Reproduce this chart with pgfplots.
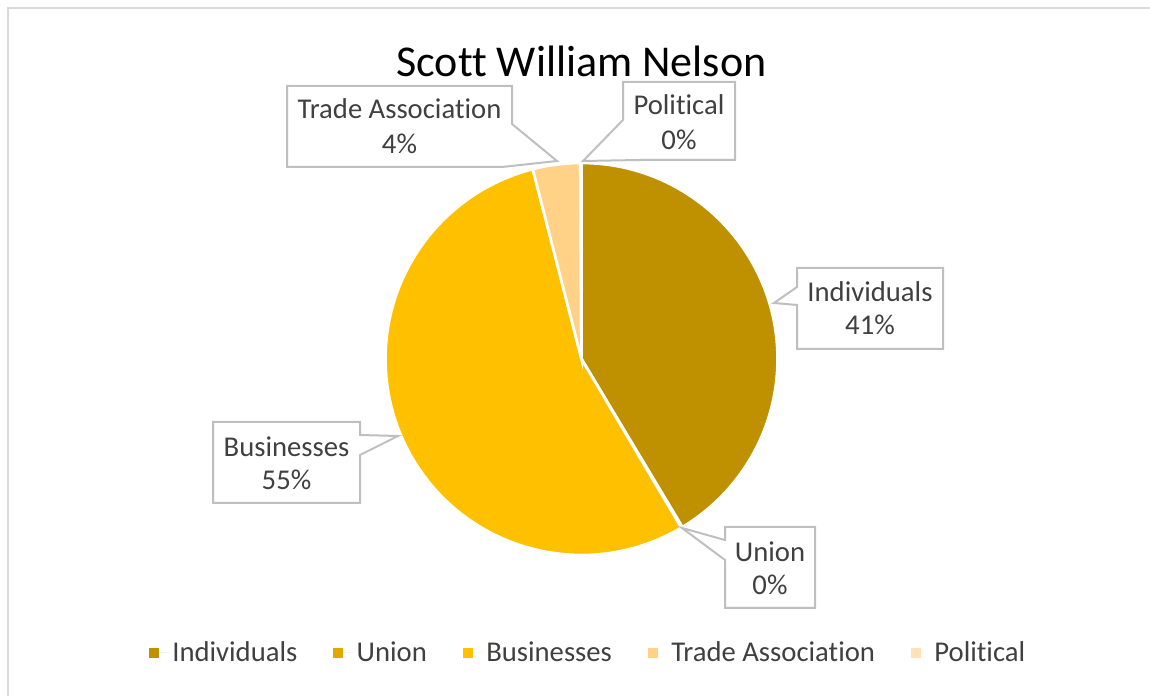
\documentclass[border=0pt]{standalone}
\usepackage{pgfplots}
\pgfplotsset{compat=1.18}
\usepackage{pgfplotstable}
\usepackage{fontspec}
\setmainfont{Carlito}[Ligatures=NoCommon]

\definecolor{cInd}{RGB}{191,144,0}
\definecolor{cUni}{RGB}{224,168,0}
\definecolor{cBus}{RGB}{255,192,0}
\definecolor{cTra}{RGB}{255,210,136}
\definecolor{cPol}{RGB}{255,226,186}
\definecolor{labelgray}{RGB}{64,64,64}
\definecolor{boxgray}{RGB}{191,191,191}
\definecolor{framegray}{RGB}{217,217,217}

\pgfplotstableread{
label value
Individuals 41.4
Union 0.1
Businesses 54.5
Trade 3.9
Political 0.1
}\piedata

\newcommand\getval[2]{\pgfplotstablegetelem{#1}{value}\of\piedata\global\let#2\pgfplotsretval}
\getval{0}\vA
\getval{1}\vB
\getval{2}\vC
\getval{3}\vD
\getval{4}\vE
\pgfmathsetmacro\angA{90}
\pgfmathsetmacro\angB{\angA-3.6*\vA}
\pgfmathsetmacro\angC{\angB-3.6*\vB}
\pgfmathsetmacro\angD{\angC-3.6*\vC}
\pgfmathsetmacro\angE{\angD-3.6*\vD}
\pgfmathsetmacro\angF{\angE-3.6*\vE}

\begin{document}
\begin{tikzpicture}
\begin{axis}[
  width=862.5pt, height=522pt, scale only axis,
  xmin=0, xmax=1150, ymin=0, ymax=696,
  hide axis, clip=false,
  legend columns=5,
  legend style={at={(0.5117,0.0618)}, anchor=center, draw=none, fill=none,
    font=\fontsize{21.5}{25}\selectfont, text=labelgray,
    /tikz/every even column/.append style={column sep=25pt}},
  legend cell align=left,
  legend image code/.code={\path[#1] (0pt,-3.75pt) rectangle (7.5pt,3.75pt);\path (0pt,0pt) -- (15.5pt,0pt);},
]
\coordinate (bbSW) at (axis cs:0,0);
\coordinate (bbNE) at (axis cs:1150,696);
% frame
\draw[framegray, line width=1.9pt] (axis cs:8,0) -- (axis cs:8,688) -- (axis cs:1150,688);
% pie slices
\fill[cInd, draw=white, line width=2pt] (axis cs:581.5,337) -- ++(\angA:147pt) arc[start angle=\angA, end angle=\angB, radius=147pt] -- cycle;
\fill[cUni, draw=white, line width=2pt] (axis cs:581.5,337) -- ++(\angB:147pt) arc[start angle=\angB, end angle=\angC, radius=147pt] -- cycle;
\fill[cBus, draw=white, line width=2pt] (axis cs:581.5,337) -- ++(\angC:147pt) arc[start angle=\angC, end angle=\angD, radius=147pt] -- cycle;
\fill[cTra, draw=white, line width=2pt] (axis cs:581.5,337) -- ++(\angD:147pt) arc[start angle=\angD, end angle=\angE, radius=147pt] -- cycle;
\fill[cPol, draw=white, line width=2pt] (axis cs:581.5,337) -- ++(\angE:147pt) arc[start angle=\angE, end angle=\angF, radius=147pt] -- cycle;
% title
\node[anchor=base, font=\fontsize{33}{40}\selectfont, text=black] at (axis cs:581.5,619) {Scott William Nelson};
% callouts
\draw[boxgray, fill=white, line width=1.5pt, line join=miter]
  (axis cs:287,610) -- (axis cs:512,610) -- (axis cs:512,572) -- (axis cs:557,535) -- (axis cs:502,529) -- (axis cs:287,529) -- cycle;
\draw[boxgray, fill=white, line width=1.5pt]
  (axis cs:623,614) -- (axis cs:735,614) -- (axis cs:735,536) -- (axis cs:640,536) -- (axis cs:583,535) -- (axis cs:623,576) -- cycle;
\draw[boxgray, fill=white, line width=1.5pt]
  (axis cs:797,428) -- (axis cs:943,428) -- (axis cs:943,347) -- (axis cs:797,347) -- (axis cs:797,391) -- (axis cs:774,393) -- (axis cs:797,409) -- cycle;
\draw[boxgray, fill=white, line width=1.5pt]
  (axis cs:213,274) -- (axis cs:360,274) -- (axis cs:360,261) -- (axis cs:398,260) -- (axis cs:360,241) -- (axis cs:360,193) -- (axis cs:213,193) -- cycle;
\draw[boxgray, fill=white, line width=1.5pt]
  (axis cs:725,169) -- (axis cs:815,169) -- (axis cs:815,88) -- (axis cs:725,88) -- (axis cs:725,136) -- (axis cs:682,168) -- (axis cs:725,156) -- cycle;
% label texts
\begin{scope}[every node/.style={anchor=base, inner sep=0pt, font=\fontsize{21.5}{26}\selectfont, text=labelgray}]
\node at (axis cs:399.5,577) {Trade Association};
\node at (axis cs:399.5,542) {4\%};
\node at (axis cs:679,581) {Political};
\node at (axis cs:679,546) {0\%};
\node at (axis cs:870,394) {Individuals};
\node at (axis cs:870,361) {41\%};
\node at (axis cs:286.5,239) {Businesses};
\node at (axis cs:286.5,206) {55\%};
\node at (axis cs:770,134) {Union};
\node at (axis cs:770,101) {0\%};
\end{scope}
% legend
\addlegendimage{fill=cInd, draw=none}
\addlegendentry{Individuals}
\addlegendimage{fill=cUni, draw=none}
\addlegendentry{Union}
\addlegendimage{fill=cBus, draw=none}
\addlegendentry{Businesses}
\addlegendimage{fill=cTra, draw=none}
\addlegendentry{Trade Association}
\addlegendimage{fill=cPol, draw=none}
\addlegendentry{Political}
\end{axis}
\pgfresetboundingbox
\path[use as bounding box] (bbSW) rectangle (bbNE);
\end{tikzpicture}
\end{document}
